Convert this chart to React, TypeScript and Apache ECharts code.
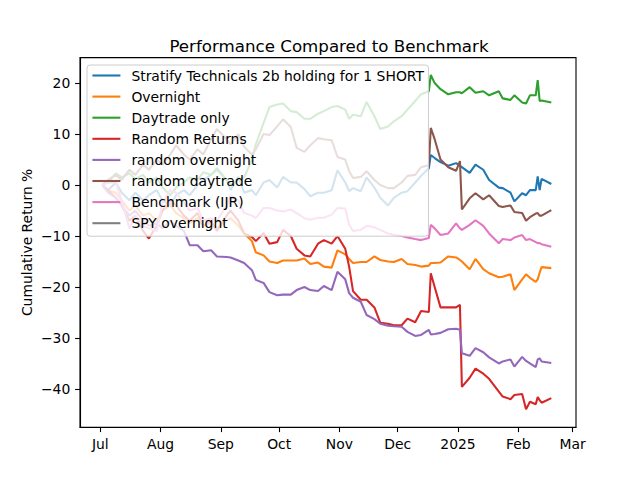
import React, { useEffect, useRef } from "react";
import * as echarts from "echarts";

const dates = [
  "2024-07-02", "2024-07-05", "2024-07-09", "2024-07-12", "2024-07-16", "2024-07-19", "2024-07-23", "2024-07-26", "2024-07-30",
  "2024-08-02", "2024-08-06", "2024-08-09", "2024-08-13", "2024-08-16", "2024-08-20", "2024-08-23", "2024-08-27", "2024-08-30",
  "2024-09-04", "2024-09-06", "2024-09-10", "2024-09-13", "2024-09-17", "2024-09-19", "2024-09-23", "2024-09-26", "2024-09-30",
  "2024-10-03", "2024-10-07", "2024-10-10", "2024-10-14", "2024-10-17", "2024-10-21", "2024-10-24", "2024-10-28", "2024-10-31",
  "2024-11-04", "2024-11-06", "2024-11-08", "2024-11-12", "2024-11-15", "2024-11-19", "2024-11-22", "2024-11-26", "2024-11-29",
  "2024-12-03", "2024-12-06", "2024-12-10", "2024-12-13", "2024-12-17", "2024-12-18", "2024-12-20", "2024-12-23", "2024-12-27", "2024-12-31",
  "2025-01-02", "2025-01-03", "2025-01-07", "2025-01-10", "2025-01-14", "2025-01-17", "2025-01-22", "2025-01-24", "2025-01-28", "2025-01-30",
  "2025-02-03", "2025-02-05", "2025-02-07", "2025-02-10", "2025-02-11", "2025-02-12", "2025-02-13", "2025-02-18",
];

const stratify = [
  0, -1, 0.5, -1.5, -3, -1.5, -3, -2, -1,
  -3, -4, -2, -1, -2, 0, 1, 2, 3.3,
  1, -1, 1.6, -1.5, -1, -2, 0.5, 1, -0.5,
  1.6, 0.5, 0.5, -0.8, -2.2, -1.5, -1.5, -1, 2.9,
  0.5, -1.2, -0.6, -1.2, 1.5, -0.5, -2.5, -4, -2.5,
  -1.5, -1.2, 0.5, 1.8, 3.3, 5.9, 5.3, 4.5, 3.8, 4.3,
  3.8, 3.5, 2.4, 4, 3, 1, -0.5, -0.6, -1.5, -3.2,
  -1.6, -2, -1, -1, 1.7, -1, 1.2, 0.2,
];

const overnight = [
  0, -1, -1.5, -3, -5, -4, -6, -5.5, -7,
  -5, -4, -5.5, -6.5, -7.5, -6.5, -8, -7.5, -8.5,
  -7, -6.5, -8, -9.5, -11, -13.2, -13.8, -15, -15.3,
  -14.8, -14.8, -14.8, -14.4, -15.5, -15.2, -16, -16.2, -12.8,
  -13.6, -14.5, -15.3, -15.1, -15.1, -14, -14.7, -15, -15.1,
  -14.5, -15.5, -15.7, -16, -15.8, -15.3, -15.3, -15.2, -14, -14.2,
  -14.7, -15, -16.5, -14.5, -16.5, -17.3, -18.1, -18, -17.5, -20.6,
  -18.5, -17.5, -18.2, -19, -18.5, -17.2, -16.1, -16.3,
];

const daytradeOnly = [
  0, 0.5, 2.3, 1.5, 2.3, 1.2, 2, 0.5, 1.5,
  -0.5, -2, -0.5, 0.5, 1.5, 1, 2.5, 2, 3,
  1, 0, 1, 1.5, 5, 8, 12.2, 15.3, 15.8,
  16, 14.5, 14.3, 13, 13, 14, 14.5, 15.3, 15.5,
  14.8, 13, 13.8, 13.5, 16.3, 13.5, 11, 11.5, 12.5,
  13.5, 14.8, 16.5, 17.8, 18.4, 21.6, 20, 18.8, 17.8, 18.2,
  18.2, 18, 19.2, 18.1, 18.4, 17.6, 18.4, 17, 16.7, 17.6,
  16.2, 16, 17.6, 17.6, 20.6, 16.5, 16.6, 16.2,
];

const randomReturns = [
  0, -1, -2.5, -4, -7, -6, -9, -10.5, -8,
  -5, -3, -4, -6, -7, -5.5, -8, -7, -9,
  -6, -5, -7, -9.5, -10.2, -11, -9.4, -11.5, -11.2,
  -8.8, -10, -12.5, -13.8, -14, -11.5, -10.8, -11.5, -10,
  -12.5, -16, -20.8, -22.5, -22.5, -24, -27, -27.2, -27.5,
  -27.5, -26.2, -26.9, -24.7, -24.9, -17.3, -20, -24, -24, -24,
  -23.5, -39.6, -37.8, -36, -37, -38, -40.5, -41.5, -42, -41.2,
  -41, -44, -42.5, -43, -41.6, -42.2, -42.7, -41.8,
];

const randomOvernight = [
  0, -1.5, -2.5, -4, -6, -5, -7, -8, -7.5,
  -8.5, -7, -8, -9, -11.8, -11.8, -13, -12.8, -14,
  -14.1, -14.2, -14.8, -15.3, -16.7, -18.6, -19.2, -21, -21.6,
  -21.5, -21.5, -20.6, -20, -20.6, -20.8, -19.8, -20.6, -17,
  -18.5, -21.2, -22.1, -22.9, -25.5, -26.3, -27.2, -27.6, -27.7,
  -27.8, -28.8, -29.6, -29.4, -28.4, -29.3, -29.2, -29, -28.3, -28.2,
  -28.4, -33, -33.5, -32, -32.8, -33.8, -35, -34.6, -34.2, -35.6,
  -33.7, -34.5, -35, -35.7, -34.2, -34, -34.6, -34.9,
];

const randomDaytrade = [
  0, 1, 2, 1, 3, 2, 4, 3, 5,
  4, 6, 7.8, 6, 5, 7, 6, 9, 11,
  9, 8, 10, 7.5, 6, 7, 10, 9.8, 11.5,
  12.9, 11.4, 7.3, 6.5, 7.8, 9.2, 9, 8.8, 5.5,
  5, 2.7, 1.4, 1.6, 2.7, 1, 0, -0.6, -0.6,
  0.5, 1.8, 2, 3.5, 3.9, 11.2, 9, 5, 3.5, 2.8,
  4.7, -4.8, -2.6, -1.6, -2.8, -2, -4.1, -4.3, -4, -5.3,
  -5.5, -7, -6.3, -5.6, -5.5, -6, -6, -4.9,
];

const benchmark = [
  0, 0.5, 0.5, -3, -8.5, -6, -8, -8.5, -9,
  -3.5, -1, -1.5, -3.5, -5, -4.5, -7, -6.5, -7,
  -4, -2, -3, -5.5, -6, -6.5, -4.5, -4.5, -5,
  -5.2, -4.8, -5.5, -6.5, -6.8, -6.4, -6.4, -5.8, -4.5,
  -4.6, -7.8, -9, -8.8, -8, -8.3, -8.8, -9.5, -9.8,
  -10, -10.3, -10.6, -10.8, -10.4, -7.8, -8.5, -9.8, -9.5, -7.5,
  -8.5, -8.8, -7.8, -6.9, -8, -9.5, -11.4, -10.6, -10.8, -10.3,
  -9.8, -10.8, -10.6, -11.2, -11.4, -11.4, -11.6, -12.1,
];

const spyOvernight: number[] = [];

const seriesNames = [
  "Stratify Technicals 2b holding for 1 SHORT",
  "Overnight",
  "Daytrade only",
  "Random Returns",
  "random overnight",
  "random daytrade",
  "Benchmark (IJR)",
  "SPY overnight",
];

const seriesColors = ["#1f77b4", "#ff7f0e", "#2ca02c", "#d62728", "#9467bd", "#8c564b", "#e377c2", "#7f7f7f"];

const xTickDates = ["2024-07-01", "2024-08-01", "2024-09-01", "2024-10-01", "2024-11-01", "2024-12-01", "2025-01-01", "2025-02-01", "2025-03-01"];
const xTickLabels = ["Jul", "Aug", "Sep", "Oct", "Nov", "Dec", "2025", "Feb", "Mar"];
const yTicks = [-40, -30, -20, -10, 0, 10, 20];
const yAxisTitle = "Cumulative Return %";

const xMin = "2024-06-20T13:26:00Z";
const xMax = "2025-03-02T16:48:00Z";
const yMin = -47.5;
const yMax = 25.0;

export default function App() {
  const ref = useRef<HTMLDivElement>(null);

  useEffect(() => {
    if (!ref.current) return;
    const chart = echarts.init(ref.current, null, { renderer: "svg" });
    const font = "DejaVu Sans";
    const ts = dates.map((d) => Date.parse(d));
    const tickTs = xTickDates.map((d) => Date.parse(d));
    const labelMap = new Map<number, string>();
    tickTs.forEach((t, i) => labelMap.set(t, xTickLabels[i]));
    const allValues = [stratify, overnight, daytradeOnly, randomReturns, randomOvernight, randomDaytrade, benchmark, spyOvernight];

    chart.setOption({
      animation: false,
      backgroundColor: "#ffffff",
      title: {
        text: "Performance Compared to Benchmark",
        left: 324,
        top: 33,
        textAlign: "center",
        textStyle: { fontFamily: font, fontSize: 16.67, fontWeight: "normal", color: "#000" },
      },
      graphic: [
        {
          type: "text",
          x: 27,
          y: 242.4,
          rotation: Math.PI / 2,
          style: {
            text: yAxisTitle,
            fontFamily: font,
            fontSize: 13.9,
            fill: "#000",
            align: "center",
            verticalAlign: "middle",
          },
        },
      ],
      grid: {
        left: 80,
        right: 64,
        top: 57.6,
        bottom: 52.8,
        show: true,
        borderColor: "#000",
        borderWidth: 1.1,
        backgroundColor: "transparent",
      },
      xAxis: {
        type: "value",
        min: Date.parse(xMin),
        max: Date.parse(xMax),
        axisLine: { show: true, onZero: false, lineStyle: { color: "#000", width: 1.1 } },
        axisTick: { show: true, length: 4.9, lineStyle: { color: "#000", width: 1.1 }, customValues: tickTs },
        axisLabel: {
          customValues: tickTs,
          formatter: (v: number) => labelMap.get(v) ?? "",
          fontFamily: font,
          fontSize: 13.9,
          color: "#000",
          margin: 9.7,
        },
        splitLine: { show: false },
      },
      yAxis: {
        type: "value",
        min: yMin,
        max: yMax,
        axisLine: { show: true, onZero: false, lineStyle: { color: "#000", width: 1.1 } },
        axisTick: { show: true, length: 4.9, lineStyle: { color: "#000", width: 1.1 }, customValues: yTicks },
        axisLabel: {
          customValues: yTicks,
          formatter: (v: number) => (v < 0 ? "\u2212" + Math.abs(v) : String(v)),
          fontFamily: font,
          fontSize: 13.9,
          color: "#000",
          margin: 9.7,
        },
        splitLine: { show: false },
      },
      legend: {
        orient: "vertical",
        left: 87,
        top: 65,
        padding: [3.5, 4.5, 6, 5.4],
        icon: "rect",
        itemWidth: 28,
        itemHeight: 2.1,
        itemGap: 7.1,
        backgroundColor: "rgba(255,255,255,0.8)",
        borderColor: "#cccccc",
        borderWidth: 1,
        borderRadius: 3,
        data: seriesNames,
        textStyle: { fontFamily: font, fontSize: 13.9, color: "#000", lineHeight: 14, padding: [0, 0, 0, 6] },
      },
      series: seriesNames.map((name, i) => ({
        name,
        type: "line",
        symbol: "none",
        showSymbol: false,
        color: seriesColors[i],
        itemStyle: { color: seriesColors[i] },
        lineStyle: { color: seriesColors[i], width: 2.08 },
        data: allValues[i].map((v, j) => [ts[j], v]),
      })),
    });

    return () => chart.dispose();
  }, []);

  return (
    <div
      ref={ref}
      style={{ position: "fixed", left: 0, top: 0, width: 640, height: 480, background: "#fff" }}
    />
  );
}
